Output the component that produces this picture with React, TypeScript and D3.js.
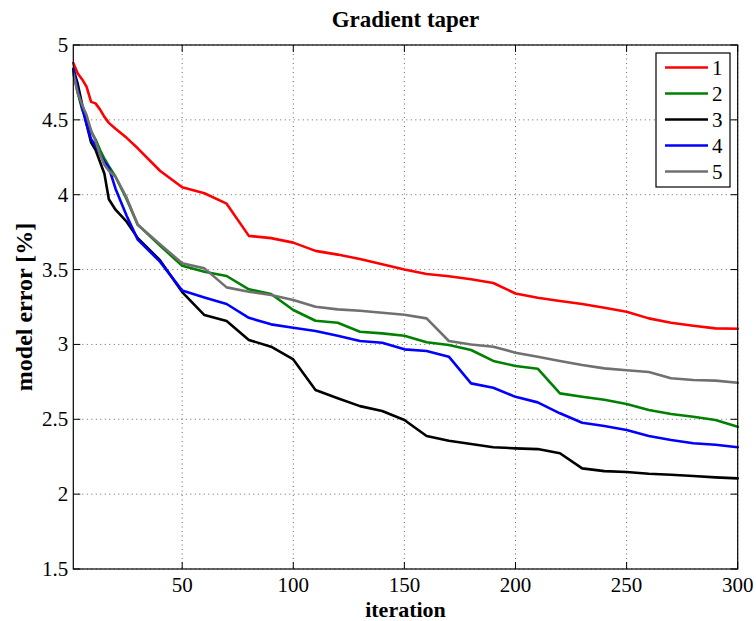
import React from "react";
import * as d3 from "d3";

// Iterations at which the model error was recorded
const iterations = [1, 3, 5, 7, 9, 11, 13, 15, 17, 20, 25, 30, 40, 50, 60, 70, 80, 90, 100, 110, 120, 130, 140, 150, 160, 170, 180, 190, 200, 210, 220, 230, 240, 250, 260, 270, 280, 290, 300];

const series1 = [4.88, 4.81, 4.77, 4.72, 4.62, 4.61, 4.57, 4.52, 4.48, 4.44, 4.38, 4.31, 4.16, 4.05, 4.01, 3.94, 3.725, 3.71, 3.68, 3.625, 3.6, 3.57, 3.535, 3.5, 3.47, 3.455, 3.435, 3.41, 3.34, 3.312, 3.29, 3.27, 3.245, 3.218, 3.174, 3.145, 3.125, 3.107, 3.105];
const series2 = [4.82, 4.68, 4.57, 4.5, 4.42, 4.37, 4.3, 4.24, 4.19, 4.12, 3.97, 3.8, 3.66, 3.526, 3.486, 3.457, 3.368, 3.337, 3.23, 3.158, 3.145, 3.085, 3.074, 3.058, 3.014, 2.996, 2.963, 2.89, 2.856, 2.838, 2.673, 2.651, 2.63, 2.602, 2.562, 2.535, 2.517, 2.495, 2.45];
const series3 = [4.84, 4.74, 4.6, 4.47, 4.35, 4.3, 4.22, 4.14, 3.97, 3.9, 3.82, 3.71, 3.563, 3.35, 3.196, 3.156, 3.03, 2.985, 2.9, 2.695, 2.64, 2.588, 2.555, 2.495, 2.388, 2.357, 2.335, 2.313, 2.306, 2.301, 2.273, 2.172, 2.154, 2.148, 2.136, 2.13, 2.121, 2.112, 2.105];
const series4 = [4.84, 4.7, 4.58, 4.47, 4.37, 4.33, 4.27, 4.22, 4.18, 4.04, 3.86, 3.7, 3.553, 3.36, 3.314, 3.27, 3.178, 3.134, 3.112, 3.09, 3.058, 3.023, 3.011, 2.967, 2.956, 2.918, 2.74, 2.711, 2.65, 2.613, 2.54, 2.477, 2.455, 2.428, 2.388, 2.362, 2.34, 2.33, 2.313];
const series5 = [4.81, 4.68, 4.6, 4.53, 4.43, 4.36, 4.27, 4.2, 4.16, 4.12, 3.98, 3.8, 3.67, 3.542, 3.508, 3.381, 3.352, 3.33, 3.297, 3.252, 3.234, 3.225, 3.212, 3.198, 3.174, 3.023, 3.0, 2.985, 2.945, 2.918, 2.889, 2.862, 2.84, 2.827, 2.816, 2.774, 2.762, 2.758, 2.744];

const seriesNames = ["1", "2", "3", "4", "5"];
const seriesColors = ["#ff0000", "#008000", "#000000", "#0000ff", "#707070"];
const allSeries = [series1, series2, series3, series4, series5];

const xTicks = [50, 100, 150, 200, 250, 300];
const yTicks = [1.5, 2, 2.5, 3, 3.5, 4, 4.5, 5];

const W = 756;
const H = 621;
const M = { left: 73.3, top: 45, right: 737.7, bottom: 569 };
const FONT = "'Liberation Serif', 'Times New Roman', serif";

export default function App() {
  const x = d3.scaleLinear().domain([1, 300]).range([M.left, M.right]);
  const y = d3.scaleLinear().domain([1.5, 5]).range([M.bottom, M.top]);
  const line = d3
    .line<number>()
    .x((_, i) => x(iterations[i]))
    .y((d) => y(d));

  const tickLen = 7;
  const legX = 656;
  const legY = 53;
  const legW = 74;
  const legRow = 26;

  return (
    <svg
      width={W}
      height={H}
      style={{ position: "absolute", left: 0, top: 0, background: "#fff" }}
      fontFamily={FONT}
    >
      <rect x={0} y={0} width={W} height={H} fill="#fff" />

      {/* grid */}
      <g stroke="#666" strokeWidth={1} strokeDasharray="1,3.5">
        {xTicks.map((t) => (
          <line key={"gx" + t} x1={x(t)} x2={x(t)} y1={M.top} y2={M.bottom} />
        ))}
        {yTicks.map((t) => (
          <line key={"gy" + t} x1={M.left} x2={M.right} y1={y(t)} y2={y(t)} />
        ))}
      </g>

      {/* series */}
      <g fill="none" strokeWidth={2.6} strokeLinejoin="round" strokeLinecap="round">
        {allSeries.map((s, i) => (
          <path key={"s" + i} d={line(s) || ""} stroke={seriesColors[i]} />
        ))}
      </g>

      {/* frame and ticks */}
      <rect
        x={M.left}
        y={M.top}
        width={M.right - M.left}
        height={M.bottom - M.top}
        fill="none"
        stroke="#000"
        strokeWidth={1.2}
      />
      <g stroke="#000" strokeWidth={1}>
        {xTicks.map((t) => (
          <g key={"tx" + t}>
            <line x1={x(t)} x2={x(t)} y1={M.bottom} y2={M.bottom - tickLen} />
            <line x1={x(t)} x2={x(t)} y1={M.top} y2={M.top + tickLen} />
          </g>
        ))}
        {yTicks.map((t) => (
          <g key={"ty" + t}>
            <line x1={M.left} x2={M.left + tickLen} y1={y(t)} y2={y(t)} />
            <line x1={M.right} x2={M.right - tickLen} y1={y(t)} y2={y(t)} />
          </g>
        ))}
      </g>

      {/* tick labels */}
      <g fontSize={21} fill="#000">
        {xTicks.map((t) => (
          <text key={"lx" + t} x={x(t)} y={M.bottom + 23} textAnchor="middle">
            {t}
          </text>
        ))}
        {yTicks.map((t) => (
          <text key={"ly" + t} x={M.left - 5} y={y(t) + 7} textAnchor="end">
            {t}
          </text>
        ))}
      </g>

      {/* titles */}
      <text x={(M.left + M.right) / 2} y={27} textAnchor="middle" fontSize={23} fontWeight="bold">
        Gradient taper
      </text>
      <text x={(M.left + M.right) / 2} y={617} textAnchor="middle" fontSize={22} fontWeight="bold">
        iteration
      </text>
      <text
        transform={`translate(32, ${(M.top + M.bottom) / 2}) rotate(-90)`}
        textAnchor="middle"
        fontSize={24}
        fontWeight="bold"
      >
        model error [%]
      </text>

      {/* legend */}
      <g>
        <rect x={legX} y={legY} width={legW} height={legRow * 5 + 4} fill="#fff" stroke="#000" strokeWidth={1.2} />
        {seriesNames.map((n, i) => {
          const cy = legY + 14.5 + i * legRow;
          return (
            <g key={"leg" + n}>
              <line x1={legX + 9} x2={legX + 52} y1={cy} y2={cy} stroke={seriesColors[i]} strokeWidth={2.6} />
              <text x={legX + 56} y={cy + 7} fontSize={21}>
                {n}
              </text>
            </g>
          );
        })}
      </g>
    </svg>
  );
}
